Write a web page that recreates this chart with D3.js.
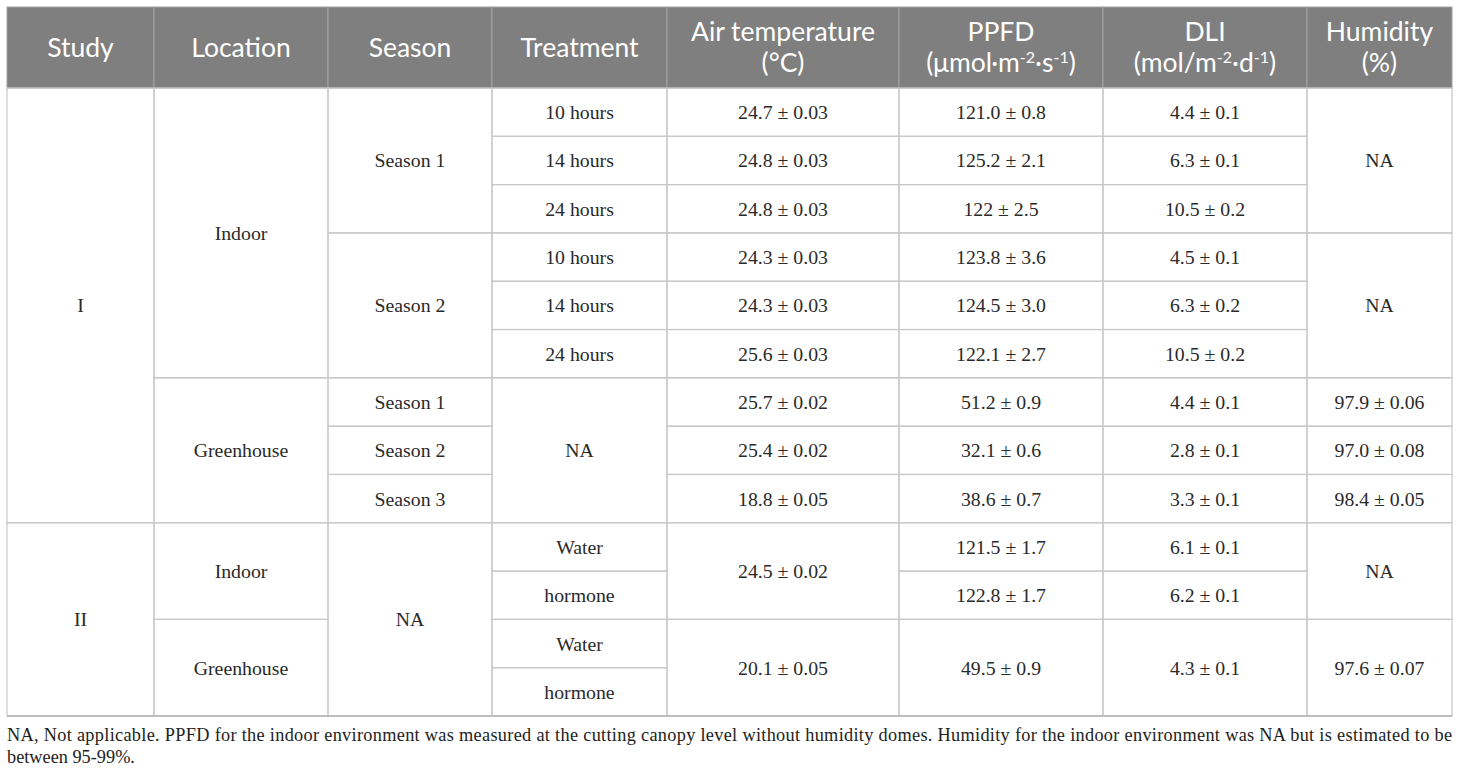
<!DOCTYPE html>
<html>
<head>
<meta charset="utf-8">
<script src="https://cdn.jsdelivr.net/npm/d3@7"></script>
<style>
  body { margin: 0; background: #fff; }
</style>
</head>
<body>
<div id="chart"></div>
<script>
// Table data, one array per column; each entry is [text, number of rows it spans]
const headers = [
    ["Study"], ["Location"], ["Season"], ["Treatment"],
    ["Air temperature", "(°C)"],
    ["PPFD", "(μmol·m^{-2}·s^{-1})"],
    ["DLI", "(mol/m^{-2}·d^{-1})"],
    ["Humidity", "(%)"]
];

const studyCol = [["I", 9], ["II", 4]];
const locationCol = [["Indoor", 6], ["Greenhouse", 3], ["Indoor", 2], ["Greenhouse", 2]];
const seasonCol = [["Season 1", 3], ["Season 2", 3], ["Season 1", 1], ["Season 2", 1], ["Season 3", 1], ["NA", 4]];
const treatmentCol = [["10 hours", 1], ["14 hours", 1], ["24 hours", 1], ["10 hours", 1], ["14 hours", 1], ["24 hours", 1],
    ["NA", 3], ["Water", 1], ["hormone", 1], ["Water", 1], ["hormone", 1]];
const airTempCol = [["24.7 ± 0.03", 1], ["24.8 ± 0.03", 1], ["24.8 ± 0.03", 1], ["24.3 ± 0.03", 1], ["24.3 ± 0.03", 1],
    ["25.6 ± 0.03", 1], ["25.7 ± 0.02", 1], ["25.4 ± 0.02", 1], ["18.8 ± 0.05", 1], ["24.5 ± 0.02", 2], ["20.1 ± 0.05", 2]];
const ppfdCol = [["121.0 ± 0.8", 1], ["125.2 ± 2.1", 1], ["122 ± 2.5", 1], ["123.8 ± 3.6", 1], ["124.5 ± 3.0", 1],
    ["122.1 ± 2.7", 1], ["51.2 ± 0.9", 1], ["32.1 ± 0.6", 1], ["38.6 ± 0.7", 1], ["121.5 ± 1.7", 1], ["122.8 ± 1.7", 1], ["49.5 ± 0.9", 2]];
const dliCol = [["4.4 ± 0.1", 1], ["6.3 ± 0.1", 1], ["10.5 ± 0.2", 1], ["4.5 ± 0.1", 1], ["6.3 ± 0.2", 1],
    ["10.5 ± 0.2", 1], ["4.4 ± 0.1", 1], ["2.8 ± 0.1", 1], ["3.3 ± 0.1", 1], ["6.1 ± 0.1", 1], ["6.2 ± 0.1", 1], ["4.3 ± 0.1", 2]];
const humidityCol = [["NA", 3], ["NA", 3], ["97.9 ± 0.06", 1], ["97.0 ± 0.08", 1], ["98.4 ± 0.05", 1], ["NA", 2], ["97.6 ± 0.07", 2]];

const footnote = "NA, Not applicable. PPFD for the indoor environment was measured at the cutting canopy level without humidity domes. Humidity for the indoor environment was NA but is estimated to be between 95-99%.";

const columns = [studyCol, locationCol, seasonCol, treatmentCol, airTempCol, ppfdCol, dliCol, humidityCol];

// Layout
const W = 1460, H = 774;
const colEdges = [7, 154, 328, 492, 667, 899, 1103, 1307, 1452];
const headTop = 7, headBottom = 88, tableBottom = 716;
const nRows = 13;

const y = d3.scaleLinear().domain([0, nRows]).range([headBottom, tableBottom]);

const svg = d3.select("#chart").append("svg")
    .attr("width", W)
    .attr("height", H);

// Header
const head = svg.append("g");
headers.forEach(function (h, i) {
    let x0 = colEdges[i], x1 = colEdges[i + 1];
    head.append("rect")
        .attr("x", x0).attr("y", headTop)
        .attr("width", x1 - x0).attr("height", headBottom - headTop)
        .attr("fill", "#7f7f7f")
        .attr("stroke", "#a3a3a3")
        .attr("stroke-width", 1);

    let cy = (headTop + headBottom) / 2;
    let lineH = 31;
    h.forEach(function (line, j) {
        let t = head.append("text")
            .attr("x", (x0 + x1) / 2)
            .attr("y", cy + (j - (h.length - 1) / 2) * lineH + 9)
            .attr("text-anchor", "middle")
            .attr("fill", "#fff")
            .attr("font-family", "Lato, 'Open Sans', sans-serif")
            .attr("font-size", 26.5);
        // split on ^{...} for superscripts
        let parts = line.split(/(\^\{[^}]*\})/);
        parts.forEach(function (p) {
            if (!p) return;
            if (p.startsWith("^{")) {
                t.append("tspan")
                    .attr("baseline-shift", "super")
                    .attr("font-size", 16)
                    .text(p.slice(2, -1));
            } else {
                t.append("tspan").text(p);
            }
        });
    });
});

// Body cells
const body = svg.append("g");
columns.forEach(function (col, i) {
    let x0 = colEdges[i], x1 = colEdges[i + 1];
    let r = 0;
    col.forEach(function (c) {
        let y0 = y(r), y1 = y(r + c[1]);
        body.append("rect")
            .attr("x", x0).attr("y", y0)
            .attr("width", x1 - x0).attr("height", y1 - y0)
            .attr("fill", "none")
            .attr("stroke", "#c8c8c8")
            .attr("stroke-width", 1.2);
        body.append("text")
            .attr("x", (x0 + x1) / 2)
            .attr("y", (y0 + y1) / 2 + 7)
            .attr("text-anchor", "middle")
            .attr("fill", "#2a2a2a")
            .attr("font-family", "'Liberation Serif', 'DejaVu Serif', serif")
            .attr("font-size", 19.8)
            .text(c[0]);
        r += c[1];
    });
});

// outer bottom line
svg.append("line")
    .attr("x1", colEdges[0]).attr("x2", colEdges[colEdges.length - 1])
    .attr("y1", tableBottom).attr("y2", tableBottom)
    .attr("stroke", "#bdbdbd").attr("stroke-width", 2);

// Footnote, wrapped to table width, justified except last line
const fnWidth = colEdges[colEdges.length - 1] - colEdges[0];
const fn = svg.append("g")
    .attr("font-family", "'Liberation Serif', serif")
    .attr("font-size", 18.3)
    .attr("fill", "#222");

let words = footnote.split(" ");
let lines = [];
let cur = [];
let probe = fn.append("text");
words.forEach(function (w) {
    let test = cur.concat([w]).join(" ");
    probe.text(test);
    if (probe.node().getComputedTextLength() > fnWidth - 6 && cur.length) {
        lines.push(cur.join(" "));
        cur = [w];
    } else {
        cur.push(w);
    }
});
lines.push(cur.join(" "));
probe.remove();

lines.forEach(function (l, i) {
    let t = fn.append("text")
        .attr("x", colEdges[0])
        .attr("y", 741 + i * 22)
        .text(l);
    if (i < lines.length - 1) {
        t.attr("textLength", fnWidth).attr("lengthAdjust", "spacing");
    }
});
</script>
</body>
</html>
